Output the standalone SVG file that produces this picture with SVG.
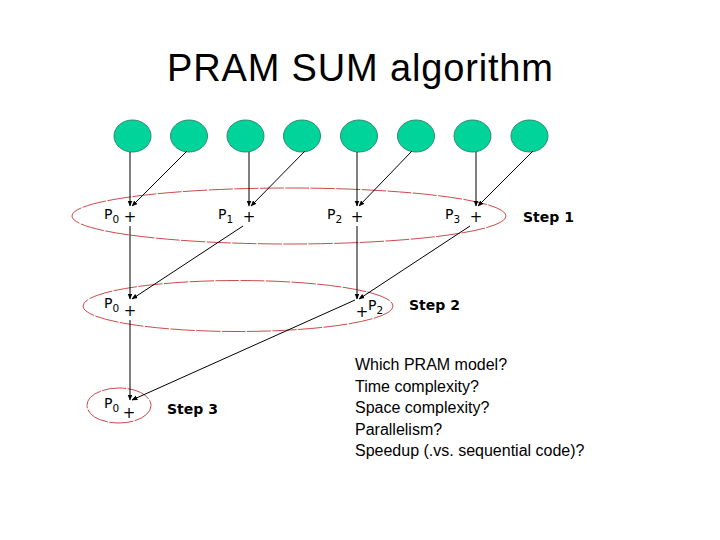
<svg xmlns="http://www.w3.org/2000/svg" width="720" height="540" viewBox="0 0 720 540">
<style>
.leaf{fill:#00d49a;stroke:#2f8a6c;stroke-width:1}
.ring{fill:none;stroke:#cc4a4a;stroke-width:1;stroke-dasharray:24 1.5}
.ln{stroke:#000;stroke-width:1;fill:none}
.p{font-family:"DejaVu Sans",Verdana,sans-serif;font-size:14px;fill:#000}
.sub{font-size:10.5px}
.plus{font-family:"DejaVu Sans",Verdana,sans-serif;font-size:15px;fill:#000}
.step{font-family:"DejaVu Sans",Verdana,sans-serif;font-size:14px;font-weight:bold;fill:#000}
.q{font-family:"Liberation Sans",Arial,sans-serif;font-size:16px;fill:#000}
.title{font-family:"Liberation Sans",Arial,sans-serif;font-size:38px;fill:#000}
</style>
<defs>
<marker id="ah" viewBox="0 0 10 10" refX="9" refY="5" markerWidth="6" markerHeight="6" orient="auto" markerUnits="userSpaceOnUse">
<path d="M0,1 L10,5 L0,9 z" fill="#000"/>
</marker>
</defs>
<rect width="720" height="540" fill="#fff"/>
<text class="title" x="360" y="81" text-anchor="middle" textLength="386">PRAM SUM algorithm</text>

<g id="leaves">
<ellipse id="n1" class="leaf" cx="132.5" cy="136" rx="18.5" ry="16"/>
<ellipse id="n2" class="leaf" cx="189" cy="136" rx="18.5" ry="16"/>
<ellipse id="n3" class="leaf" cx="245.5" cy="136" rx="18.5" ry="16"/>
<ellipse id="n4" class="leaf" cx="302" cy="136" rx="18.5" ry="16"/>
<ellipse id="n5" class="leaf" cx="359" cy="136" rx="18.5" ry="16"/>
<ellipse id="n6" class="leaf" cx="416" cy="136" rx="18.5" ry="16"/>
<ellipse id="n7" class="leaf" cx="472.5" cy="136" rx="18.5" ry="16"/>
<ellipse id="n8" class="leaf" cx="529.5" cy="136" rx="18.5" ry="16"/>
</g>

<g id="rings">
<ellipse id="ring1" class="ring" cx="289" cy="216" rx="217" ry="28"/>
<ellipse id="ring2" class="ring" cx="238" cy="306" rx="155" ry="25.5"/>
<ellipse id="ring3" class="ring" cx="119" cy="405.5" rx="32" ry="17.5"/>
</g>

<g id="connectors">
<line class="ln" x1="130" y1="152" x2="130" y2="206" marker-end="url(#ah)"/>
<line class="ln" x1="187" y1="151" x2="132" y2="206" marker-end="url(#ah)"/>
<line class="ln" x1="249" y1="152" x2="249" y2="206" marker-end="url(#ah)"/>
<line class="ln" x1="305" y1="151" x2="251" y2="206" marker-end="url(#ah)"/>
<line class="ln" x1="357" y1="152" x2="357" y2="206" marker-end="url(#ah)"/>
<line class="ln" x1="412" y1="151" x2="359" y2="206" marker-end="url(#ah)"/>
<line class="ln" x1="476" y1="152" x2="476" y2="206" marker-end="url(#ah)"/>
<line class="ln" x1="533" y1="151" x2="478" y2="206" marker-end="url(#ah)"/>

<line class="ln" x1="130" y1="226" x2="130" y2="299" marker-end="url(#ah)"/>
<line class="ln" x1="243" y1="226" x2="132" y2="299" marker-end="url(#ah)"/>
<line class="ln" x1="357" y1="226" x2="357" y2="299" marker-end="url(#ah)"/>
<line class="ln" x1="470" y1="226" x2="359" y2="299" marker-end="url(#ah)"/>

<line class="ln" x1="130" y1="320" x2="130" y2="400" marker-end="url(#ah)"/>
<line class="ln" x1="355" y1="300" x2="132" y2="400" marker-end="url(#ah)"/>
</g>

<g id="step1">
<text class="p" x="104" y="219">P<tspan class="sub" dy="4">0</tspan></text>
<text class="plus" x="130" y="222" text-anchor="middle">+</text>
<text class="p" x="218" y="219">P<tspan class="sub" dy="4">1</tspan></text>
<text class="plus" x="249" y="222" text-anchor="middle">+</text>
<text class="p" x="327" y="219">P<tspan class="sub" dy="4">2</tspan></text>
<text class="plus" x="357" y="222" text-anchor="middle">+</text>
<text class="p" x="445" y="219">P<tspan class="sub" dy="4">3</tspan></text>
<text class="plus" x="476" y="222" text-anchor="middle">+</text>
<text class="step" x="523" y="222">Step 1</text>
</g>

<g id="step2">
<text class="p" x="104" y="308">P<tspan class="sub" dy="4">0</tspan></text>
<text class="plus" x="130" y="316" text-anchor="middle">+</text>
<text class="plus" x="362" y="317" text-anchor="middle">+</text>
<text class="p" x="368" y="310">P<tspan class="sub" dy="4">2</tspan></text>
<text class="step" x="409" y="310">Step 2</text>
</g>

<g id="step3">
<text class="p" x="104" y="408">P<tspan class="sub" dy="4">0</tspan></text>
<text class="plus" x="129" y="418" text-anchor="middle">+</text>
<text class="step" x="167" y="414">Step 3</text>
</g>

<g id="questions">
<text class="q" x="355" y="370">Which PRAM model?</text>
<text class="q" x="355" y="391.5">Time complexity?</text>
<text class="q" x="355" y="413">Space complexity?</text>
<text class="q" x="355" y="434.5">Parallelism?</text>
<text class="q" x="355" y="456">Speedup (.vs. sequential code)?</text>
</g>
</svg>
